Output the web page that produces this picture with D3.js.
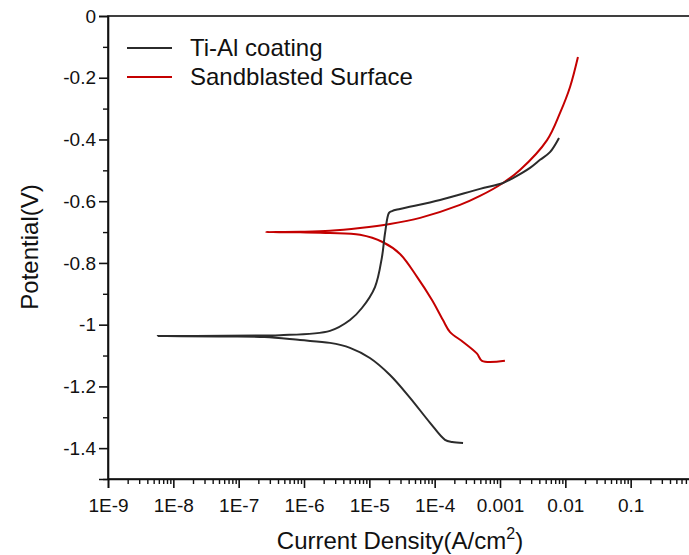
<!DOCTYPE html>
<html>
<head>
<meta charset="utf-8">
<script src="https://cdn.jsdelivr.net/npm/d3@7"></script>
<style>
  body { margin: 0; background: #fff; }
  text { font-family: "Liberation Sans", Arial, sans-serif; fill: #111; }
</style>
</head>
<body>
<div id="chart"></div>
<script>
// Ti-Al coating, scan order: cathodic branch -> Ecorr -> anodic branch
var tialCurrent = [2.72e-4, 2.72e-4, 1.85e-4, 1.44e-4, 8.5e-5, 4.2e-5, 2.07e-5, 1.02e-5, 5.06e-6, 2.5e-6, 8.7e-7, 2.5e-7, 6.3e-8, 5.8e-9,
                   6.3e-8, 2.5e-7, 4.3e-7, 2.5e-6, 5.06e-6, 7.7e-6, 1.22e-5, 1.56e-5, 1.74e-5, 2.0e-5, 2.22e-5, 2.95e-5, 1.21e-4, 4.94e-4, 1.11e-3, 1.58e-3, 2.88e-3, 4.1e-3, 5.82e-3, 8.0e-3];
var tialPotential = [-1.383, -1.383, -1.380, -1.373, -1.318, -1.237, -1.163, -1.108, -1.075, -1.059, -1.050, -1.040, -1.038, -1.037,
                     -1.036, -1.035, -1.034, -1.020, -0.985, -0.946, -0.878, -0.781, -0.703, -0.638, -0.632, -0.625, -0.596, -0.560, -0.541, -0.525, -0.492, -0.466, -0.441, -0.395];

// Sandblasted surface
var sandCurrent = [1.19e-3, 5.3e-4, 4.45e-4, 2.72e-4, 1.72e-4, 1.34e-4, 9.1e-5, 5.37e-5, 2.95e-5, 1.62e-5, 7.2e-6, 2.5e-6, 8.7e-7, 2.6e-7,
                   8.7e-7, 2.5e-6, 7.2e-6, 2.07e-5, 6.0e-5, 2.44e-4, 4.94e-4, 1.11e-3, 2.02e-3, 5.25e-3, 8.3e-3, 1.18e-2, 1.56e-2];
var sandPotential = [-1.117, -1.117, -1.094, -1.056, -1.024, -0.985, -0.920, -0.845, -0.771, -0.733, -0.709, -0.703, -0.701, -0.700,
                     -0.699, -0.696, -0.687, -0.674, -0.654, -0.612, -0.583, -0.541, -0.499, -0.402, -0.314, -0.230, -0.133];

var seriesNames = ["Ti-Al coating", "Sandblasted Surface"];
var seriesColors = ["#2b2b2b", "#c40000"];

var xTickValues = [1e-9, 1e-8, 1e-7, 1e-6, 1e-5, 1e-4, 1e-3, 1e-2, 1e-1, 1];
var xTickLabels = ["1E-9", "1E-8", "1E-7", "1E-6", "1E-5", "1E-4", "0.001", "0.01", "0.1", "1"];
var yTickValues = [0, -0.2, -0.4, -0.6, -0.8, -1, -1.2, -1.4];
var yTickLabels = ["0", "-0.2", "-0.4", "-0.6", "-0.8", "-1", "-1.2", "-1.4"];

var W = 689, H = 555;
var margin = {top: 16, left: 108},
    width = 588,
    height = 463;

var svg = d3.select("#chart").append("svg")
    .attr("width", W)
    .attr("height", H);

var g = svg.append("g")
    .attr("transform", "translate(" + margin.left + "," + margin.top + ")");

var x = d3.scaleLog().domain([1e-9, 1]).range([0, width]);
var y = d3.scaleLinear().domain([-1.5, 0]).range([height, 0]);

// frame
g.append("rect")
    .attr("x", 0).attr("y", 0)
    .attr("width", width).attr("height", height)
    .attr("fill", "none")
    .attr("stroke", "#111")
    .attr("stroke-width", 1.6);

// minor x ticks
var xMinor = [];
for (var e = -9; e < 0; e++) {
    for (var k = 2; k <= 9; k++) xMinor.push(k * Math.pow(10, e));
}
g.append("g")
    .attr("transform", "translate(0," + height + ")")
    .call(d3.axisBottom(x).tickValues(xMinor).tickSize(5).tickFormat(""))
    .call(function(a) { a.select(".domain").remove(); })
    .selectAll("line").attr("stroke", "#111").attr("stroke-width", 1.4);

var xAxis = g.append("g")
    .attr("transform", "translate(0," + height + ")")
    .call(d3.axisBottom(x).tickValues(xTickValues).tickSize(9).tickPadding(11)
        .tickFormat(function(d, i) { return xTickLabels[i]; }));
xAxis.select(".domain").attr("stroke", "#111").attr("stroke-width", 1.6);
xAxis.selectAll("line").attr("stroke", "#111").attr("stroke-width", 1.6);
xAxis.selectAll("text").style("font-size", "19px").attr("fill", "#111");

// minor y ticks
var yMinor = [-0.1, -0.3, -0.5, -0.7, -0.9, -1.1, -1.3, -1.5];
g.append("g")
    .call(d3.axisLeft(y).tickValues(yMinor).tickSize(5).tickFormat(""))
    .call(function(a) { a.select(".domain").remove(); })
    .selectAll("line").attr("stroke", "#111").attr("stroke-width", 1.4);

var yAxis = g.append("g")
    .call(d3.axisLeft(y).tickValues(yTickValues).tickSize(9).tickPadding(3)
        .tickFormat(function(d, i) { return yTickLabels[i]; }));
yAxis.select(".domain").attr("stroke", "#111").attr("stroke-width", 1.6);
yAxis.selectAll("line").attr("stroke", "#111").attr("stroke-width", 1.6);
yAxis.selectAll("text").style("font-size", "19px").attr("fill", "#111");

// curves
var line = d3.line()
    .x(function(d) { return x(d[0]); })
    .y(function(d) { return y(d[1]); })
    .curve(d3.curveCatmullRom.alpha(0.5));

var tialData = tialCurrent.map(function(c, i) { return [c, tialPotential[i]]; });
var sandData = sandCurrent.map(function(c, i) { return [c, sandPotential[i]]; });

g.append("path")
    .datum(sandData)
    .attr("fill", "none")
    .attr("stroke", seriesColors[1])
    .attr("stroke-width", 2)
    .attr("d", line);

g.append("path")
    .datum(tialData)
    .attr("fill", "none")
    .attr("stroke", seriesColors[0])
    .attr("stroke-width", 2)
    .attr("d", line);

// legend
var legend = g.selectAll(".legend")
    .data(seriesNames)
    .enter().append("g")
    .attr("class", "legend")
    .attr("transform", function(d, i) { return "translate(19," + (32 + i * 29) + ")"; });
legend.append("line")
    .attr("x1", 0).attr("x2", 45)
    .attr("y1", 0).attr("y2", 0)
    .attr("stroke", function(d, i) { return seriesColors[i]; })
    .attr("stroke-width", 2);
legend.append("text")
    .attr("x", 63).attr("y", 8)
    .style("font-size", "24px")
    .text(function(d) { return d; });

// axis titles
var xt = svg.append("text")
    .attr("x", 400).attr("y", 549)
    .attr("text-anchor", "middle")
    .style("font-size", "24px");
xt.append("tspan").text("Current Density(A/cm");
xt.append("tspan").attr("dy", -10).style("font-size", "16px").text("2");
xt.append("tspan").attr("dy", 10).text(")");

svg.append("text")
    .attr("transform", "translate(38,247) rotate(-90)")
    .attr("text-anchor", "middle")
    .style("font-size", "24px")
    .text("Potential(V)");
</script>
</body>
</html>
